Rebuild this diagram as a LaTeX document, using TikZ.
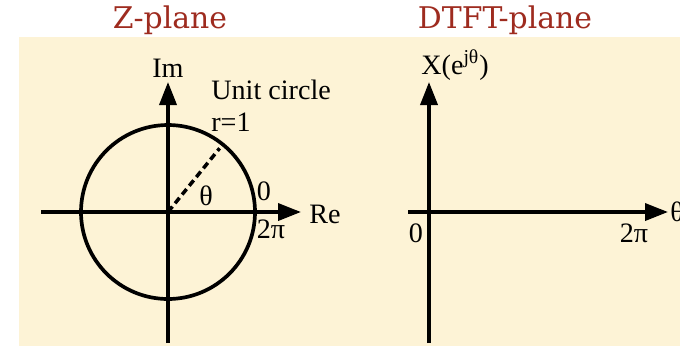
\documentclass[tikz,border=0pt]{standalone}
\usepackage{fontspec}
\setmainfont{Liberation Serif}
\newfontfamily\titlefont{DejaVu Serif}
\usetikzlibrary{arrows.meta,positioning,calc}
\definecolor{creambg}{HTML}{FDF3D6}
\definecolor{titlered}{HTML}{9E2B1F}

\begin{document}
\begin{tikzpicture}[x=0.02cm,y=-0.02cm,
    axis/.style={line width=2.1pt,-{Triangle[length=4.6mm,width=3.4mm]}},
    plain/.style={line width=2.1pt},
    title/.style={font=\titlefont\fontsize{17}{19}\selectfont,text=titlered,inner sep=0pt},
    lbl/.style={font=\fontsize{16}{18.2}\selectfont,inner sep=0pt},
]
\useasboundingbox (0,0) rectangle (680,346);
\clip (0,0) rectangle (680,346);

% ---- Background ----------------------------------------------------------
\fill[creambg] (19,37) rectangle (680,346);

% ---- Titles --------------------------------------------------------------
\node[title] (tz) at (170,20) {Z-plane};
\node[title] (td) at (505,20) {DTFT-plane};

% ---- Z-plane -------------------------------------------------------------
\coordinate (o1) at (168,212);
\coordinate (imlo) at (168,343);
\coordinate (imhi) at (168,82);
\coordinate (relo) at (41,212);
\coordinate (rehi) at (301,212);
\draw[plain] (o1) circle[radius=87];
\draw[axis] (imlo) -- (imhi);
\draw[axis] (relo) -- (rehi);
\coordinate (rad) at ($(o1)+(-51:82)$);
\draw[line width=2pt,dash pattern=on 4pt off 2.4pt] (o1) -- (rad);

\node[lbl] (im) at (168,68) {Im};
\node[lbl,anchor=west] (re) at (309,214) {Re};
\node[lbl,anchor=west,align=left] (uc) at (211,106) {Unit circle\\r=1};
\node[lbl] (th1) at (206,196) {θ};
\node[lbl] (zero1) at (264,191) {0};
\node[lbl] (tpi1) at (271,229) {2π};

% ---- DTFT-plane ----------------------------------------------------------
\coordinate (o2) at (429,212);
\coordinate (xlo) at (429,343);
\coordinate (xhi) at (429,82);
\coordinate (tlo) at (408,212);
\coordinate (thi) at (668,212);
\draw[axis] (xlo) -- (xhi);
\draw[axis] (tlo) -- (thi);

\node[lbl] (xe) at (455,65) {X(e\textsuperscript{jθ})};
\node[lbl,anchor=west] (th2) at (670,212) {θ};
\node[lbl] (zero2) at (416,233) {0};
\node[lbl] (tpi2) at (634,233) {2π};

\end{tikzpicture}
\end{document}
